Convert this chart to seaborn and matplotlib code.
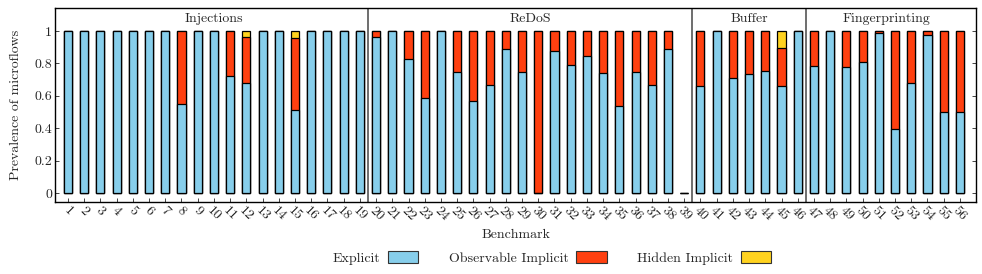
import matplotlib
matplotlib.use("Agg")
import matplotlib.pyplot as plt
import seaborn as sns
import pandas as pd
from matplotlib.patches import Patch

benchmarks = [str(i) for i in range(1, 57)]
explicit = [1, 1, 1, 1, 1, 1, 1, 0.55, 1, 1, 0.72, 0.68, 1, 1, 0.51, 1, 1, 1, 1,
            0.96, 1, 0.83, 0.585, 1, 0.75, 0.57, 0.665, 0.887, 0.75, 0.0, 0.879, 0.789, 0.844,
            0.739, 0.536, 0.75, 0.665, 0.887, 0.0,
            0.663, 1, 0.713, 0.735, 0.752, 0.663, 1,
            0.784, 1, 0.776, 0.811, 0.988, 0.398, 0.678, 0.973, 0.5, 0.5]
observable = [0, 0, 0, 0, 0, 0, 0, 0.45, 0, 0, 0.28, 0.285, 0, 0, 0.445, 0, 0, 0, 0,
              0.04, 0, 0.17, 0.415, 0, 0.25, 0.43, 0.335, 0.113, 0.25, 1.0, 0.121, 0.211, 0.156,
              0.261, 0.464, 0.25, 0.335, 0.113, 0.0,
              0.337, 0, 0.287, 0.265, 0.248, 0.234, 0,
              0.216, 0, 0.224, 0.189, 0.012, 0.602, 0.322, 0.027, 0.5, 0.5]
hidden = [0, 0, 0, 0, 0, 0, 0, 0, 0, 0, 0, 0.035, 0, 0, 0.045, 0, 0, 0, 0,
          0, 0, 0, 0, 0, 0, 0, 0, 0, 0, 0, 0, 0, 0,
          0, 0, 0, 0, 0, 0,
          0, 0, 0, 0, 0, 0.103, 0,
          0, 0, 0, 0, 0, 0, 0, 0, 0, 0]
groups = ["Injections", "ReDoS", "Buffer", "Fingerprinting"]
group_sizes = [19, 20, 7, 10]
series_names = ["Explicit", "Observable Implicit", "Hidden Implicit"]
colors = ["#87CEEB", "#FF4010", "#FFD21F"]

sns.set_style("white")
plt.rcParams["font.family"] = ["cmr10", "DejaVu Serif"]
plt.rcParams["axes.formatter.use_mathtext"] = True
plt.rcParams["mathtext.fontset"] = "cm"

df = pd.DataFrame({"bench": benchmarks, "exp": explicit, "obs": observable, "hid": hidden})
df["lvl2"] = df["exp"] + df["obs"]
df["lvl3"] = df["lvl2"] + df["hid"]

fig = plt.figure(figsize=(9.82, 2.74), dpi=100)
ax = fig.add_axes([0.056, 0.263, 0.938, 0.708])

for col, c in zip(["lvl3", "lvl2", "exp"], colors[::-1]):
    sns.barplot(data=df, x="bench", y=col, order=benchmarks, color=c, width=0.5,
                saturation=1, edgecolor="black", linewidth=0.9, ax=ax)

ax.set_xlim(-0.8, 56.0)
ax.set_ylim(-0.054, 1.142)
ax.set_yticks([0, 0.2, 0.4, 0.6, 0.8, 1.0])
ax.set_yticklabels(["0", "0.2", "0.4", "0.6", "0.8", "1"], fontsize=10)
ax.set_xticks(range(len(benchmarks)))
ax.set_xticklabels(benchmarks, rotation=-45, fontsize=10)
ax.tick_params(axis="both", direction="in", length=3, width=0.6, pad=2)
ax.tick_params(axis="y", right=True, left=True)
ax.tick_params(axis="x", bottom=True)
ax.set_ylabel("Prevalence of microflows", fontsize=10, labelpad=9)
ax.set_xlabel("Benchmark", fontsize=10, labelpad=4)
for s in ax.spines.values():
    s.set_color("black")
    s.set_linewidth(1.0)

start = 0
for name, n in zip(groups, group_sizes):
    end = start + n
    if end < len(benchmarks):
        ax.axvline(end - 0.5, color="#555555", linewidth=1.2)
    ax.text((start + end - 1) / 2, 1.075, name, ha="center", va="center", fontsize=10)
    start = end

handles = [Patch(facecolor=c, edgecolor="#333333", linewidth=0.8) for c in colors]
fig.legend(handles, series_names, loc="center", bbox_to_anchor=(0.562, 0.058), ncol=3,
           frameon=False, markerfirst=False, fontsize=10, columnspacing=2.2,
           handlelength=2.2, handleheight=0.95, handletextpad=0.55)

fig.savefig("out.png", dpi=100)
